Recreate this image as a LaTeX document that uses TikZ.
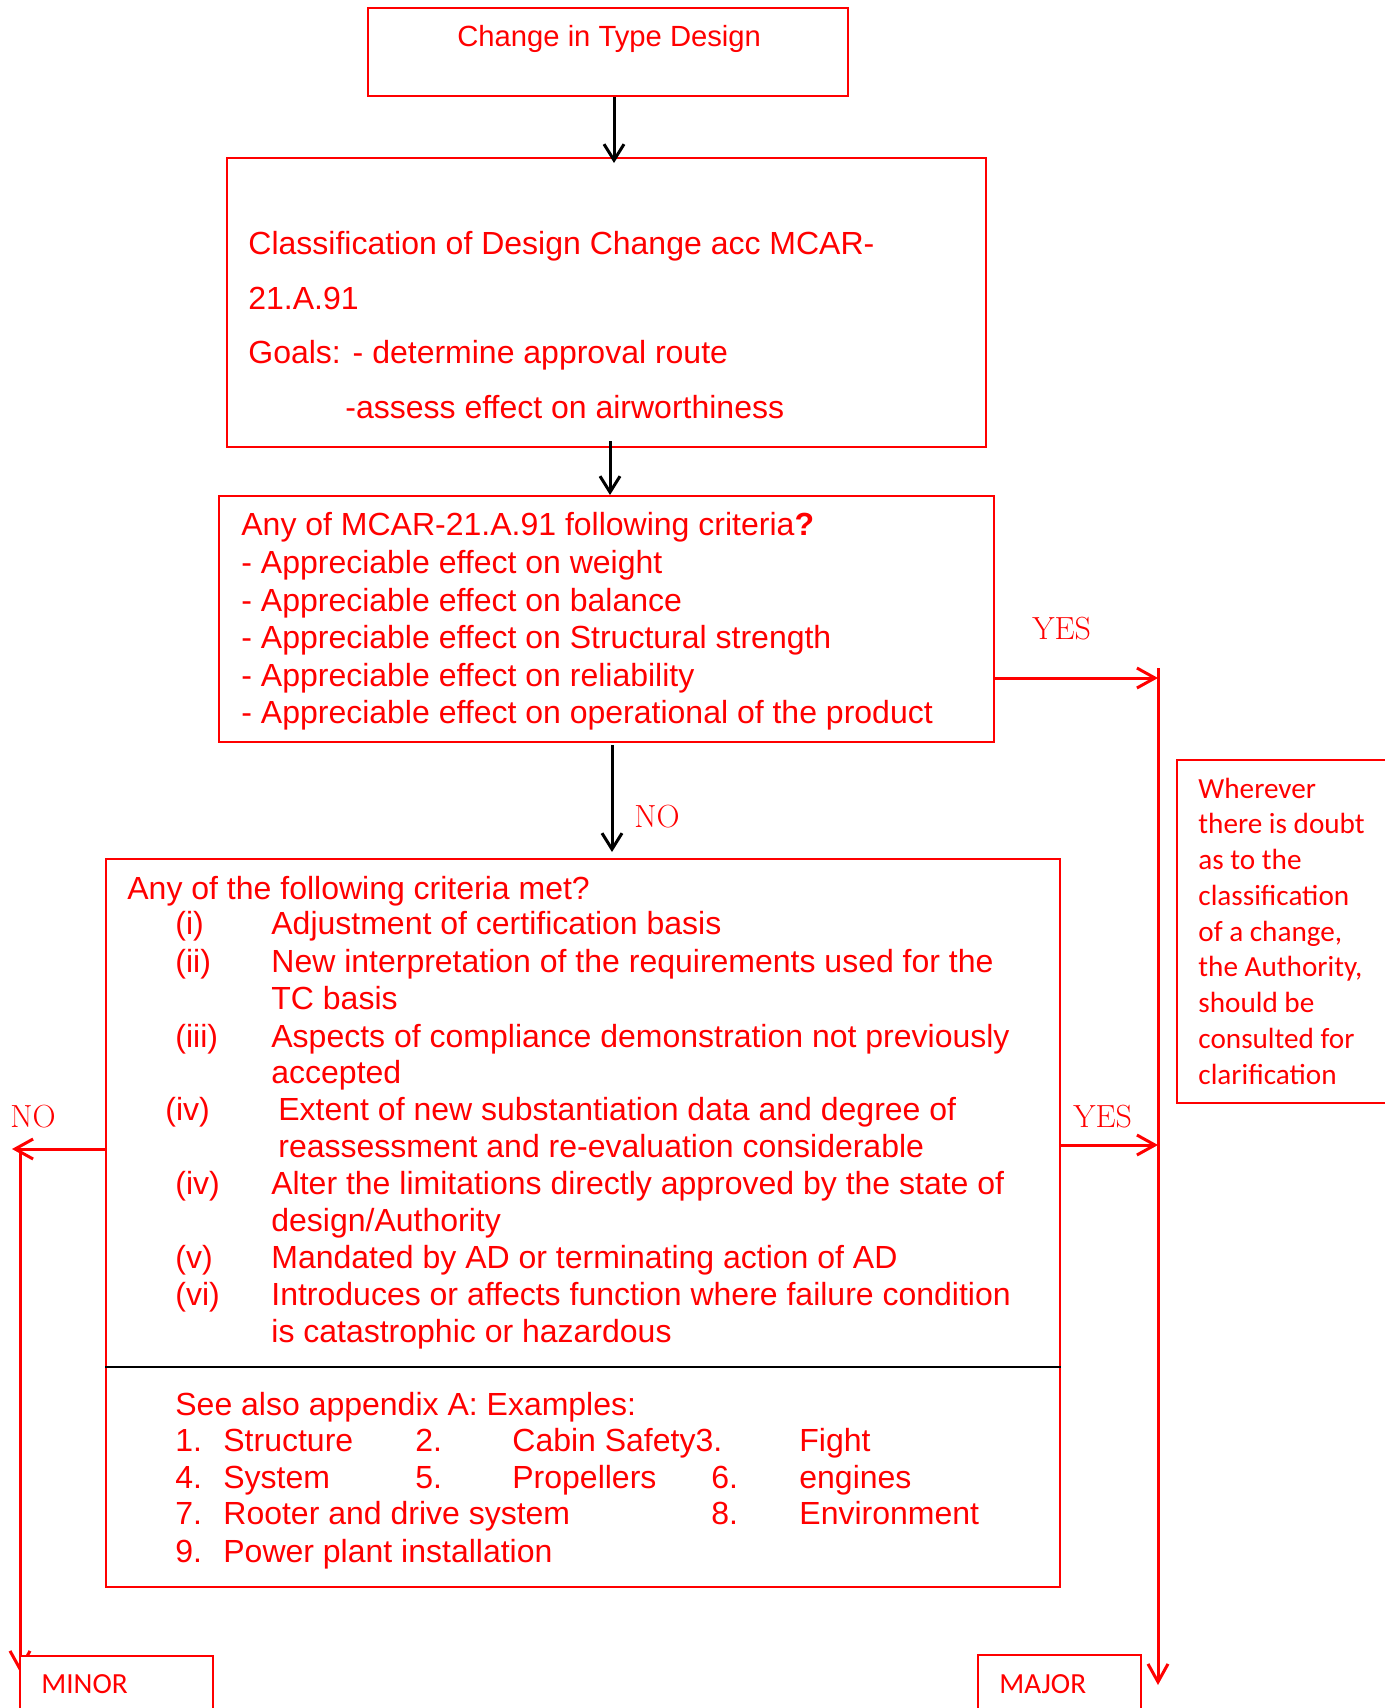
\documentclass[tikz,border=0pt]{standalone}
\usepackage{fontspec}
\newfontfamily\arialf{Liberation Sans}
\newfontfamily\calf{Carlito}
\usetikzlibrary{arrows.meta,fit}
\tikzset{
  box/.style={draw=red, line width=1pt, inner sep=0pt, fill=white},
  txt/.style={anchor=base west, inner sep=0pt, text=red,
    font=\arialf\fontsize{16}{19}\selectfont},
  note/.style={anchor=base west, inner sep=0pt, text=red,
    font=\calf\fontsize{14.6}{17}\selectfont},
  lbl/.style={anchor=base west, inner sep=0pt, text=red,
    font=\rmfamily\fontsize{16}{19}\selectfont},
  blk/.style={draw=black, line width=1.5pt,
    -{Straight Barb[length=8pt,width=10pt,line width=1.5pt]}},
  rarr/.style={draw=red, line width=1.5pt,
    -{Straight Barb[length=9pt,width=10pt,line width=1.5pt]}},
  rline/.style={draw=red, line width=1.5pt},
}
\begin{document}
\begin{tikzpicture}[x=0.5pt,y=-0.5pt]
\useasboundingbox (0,0) rectangle (1385,1708);

% boxes
\node[box, fit={(368,8) (848,96)}] (b1) {};
\node[box, fit={(227,158) (986,447)}] (b2) {};
\node[box, fit={(219,496) (994,742)}] (b3) {};
\node[box, fit={(106,859) (1060,1587)}] (b4) {};
\node[box, fit={(1177,760) (1400,1103)}] (note) {};
\draw[black, line width=1.3pt] (b4.west |- 0,1367) -- (b4.east |- 0,1367);

% start box
\node[txt, font=\arialf\fontsize{14.6}{17}\selectfont] (t1) at (457,46) {Change in Type Design};

% classification box
\node[txt] (t2a) at (248,254) {Classification of Design Change acc MCAR-};
\node[txt] (t2b) at (248,309) {21.A.91};
\node[txt] (t2c) at (248,363) {Goals: - determine approval route};
\node[txt] (t2d) at (345,418) {-assess effect on airworthiness};

% first criteria box
\node[txt] (t3a) at (241,535) {Any of MCAR-21.A.91 following criteria\textbf{?}};
\node[txt] (t3b) at (241,573) {- Appreciable effect on weight};
\node[txt] (t3c) at (241,611) {- Appreciable effect on balance};
\node[txt] (t3d) at (241,648) {- Appreciable effect on Structural strength};
\node[txt] (t3e) at (241,686) {- Appreciable effect on reliability};
\node[txt] (t3f) at (241,723) {- Appreciable effect on operational of the product};

% second criteria box
\node[txt] (t4) at (127,899) {Any of the following criteria met?};
\node[txt] (n1) at (175,934) {(i)};
\node[txt] (c1) at (271,934) {Adjustment of certification basis};
\node[txt] (n2) at (175,972) {(ii)};
\node[txt] (c2) at (271,972) {New interpretation of the requirements used for the};
\node[txt] (c2b) at (271,1009) {TC basis};
\node[txt] (n3) at (175,1047) {(iii)};
\node[txt] (c3) at (271,1047) {Aspects of compliance demonstration not previously};
\node[txt] (c3b) at (271,1083) {accepted};
\node[txt] (n4) at (165,1120) {(iv)};
\node[txt] (c4) at (278,1120) {Extent of new substantiation data and degree of};
\node[txt] (c4b) at (278,1157) {reassessment and re-evaluation considerable};
\node[txt] (n5) at (175,1194) {(iv)};
\node[txt] (c5) at (271,1194) {Alter the limitations directly approved by the state of};
\node[txt] (c5b) at (271,1231) {design/Authority};
\node[txt] (n6) at (175,1268) {(v)};
\node[txt] (c6) at (271,1268) {Mandated by AD or terminating action of AD};
\node[txt] (n7) at (175,1305) {(vi)};
\node[txt] (c7) at (271,1305) {Introduces or affects function where failure condition};
\node[txt] (c7b) at (271,1342) {is catastrophic or hazardous};

% examples
\node[txt] (e0) at (175,1415) {See also appendix A: Examples:};
\node[txt] (e1n) at (175,1451) {1.};
\node[txt] (e1) at (223,1451) {Structure};
\node[txt] (e2n) at (415,1451) {2.};
\node[txt] (e2) at (512,1451) {Cabin Safety3.};
\node[txt] (e3) at (799,1451) {Fight};
\node[txt] (e4n) at (175,1488) {4.};
\node[txt] (e4) at (223,1488) {System};
\node[txt] (e5n) at (415,1488) {5.};
\node[txt] (e5) at (512,1488) {Propellers};
\node[txt] (e6n) at (711,1488) {6.};
\node[txt] (e6) at (799,1488) {engines};
\node[txt] (e7n) at (175,1524) {7.};
\node[txt] (e7) at (223,1524) {Rooter and drive system};
\node[txt] (e8n) at (711,1524) {8.};
\node[txt] (e8) at (799,1524) {Environment};
\node[txt] (e9n) at (175,1562) {9.};
\node[txt] (e9) at (223,1562) {Power plant installation};

% side note
\foreach \i/\s in {0/Wherever, 1/there is doubt, 2/as to the, 3/classification,
  4/{of a change,}, 5/{the Authority,}, 6/should be, 7/consulted for, 8/clarification}
  \node[note] (s\i) at (1198,798+35.75*\i) {\s};

% flow between the boxes
\coordinate (ax1) at (614,0);
\coordinate (ax2) at (610,441);
\coordinate (ax3) at (612,745);
\draw[blk] (b1.south -| ax1) -- ([yshift=-3pt]b2.north -| ax1);
\draw[blk] (ax2) -- (b3.north -| ax2);
\draw[blk, shorten >=3pt] (ax3) -- (b4.north -| ax3);
\node[lbl] (no1) at (634,827) {NO};

% YES branches to the right trunk
\coordinate (j0) at (1158,668);
\coordinate (j1) at (1158,678);
\coordinate (j2) at (1158,1145);
\coordinate (jend) at (1158,1685);
\draw[rline] (j0) -- (j1);
\draw[rarr] (b3.east |- j1) -- (j1);
\draw[rarr] (b4.east |- j2) -- (j2);
\draw[rarr] (j1) -- (jend);
\node[lbl] (yes1) at (1032,639) {YES};
\node[lbl] (yes2) at (1073,1127) {YES};

% NO branch to the left
\coordinate (k1) at (12,1149);
\coordinate (k2) at (20,1149);
\coordinate (kend) at (20,1672);
\draw[rarr] (b4.west |- k1) -- (k1);
\draw[rarr] (k2) -- (kend);
\node[lbl] (no2) at (10,1127) {NO};

% outcome boxes
\node[box, fit={(20,1656) (213,1730)}] (minor) {};
\node[note] (tminor) at (41,1693) {MINOR};
\node[box, fit={(978,1655) (1141,1730)}] (major) {};
\node[note] (tmajor) at (999,1693) {MAJOR};
\end{tikzpicture}
\end{document}
